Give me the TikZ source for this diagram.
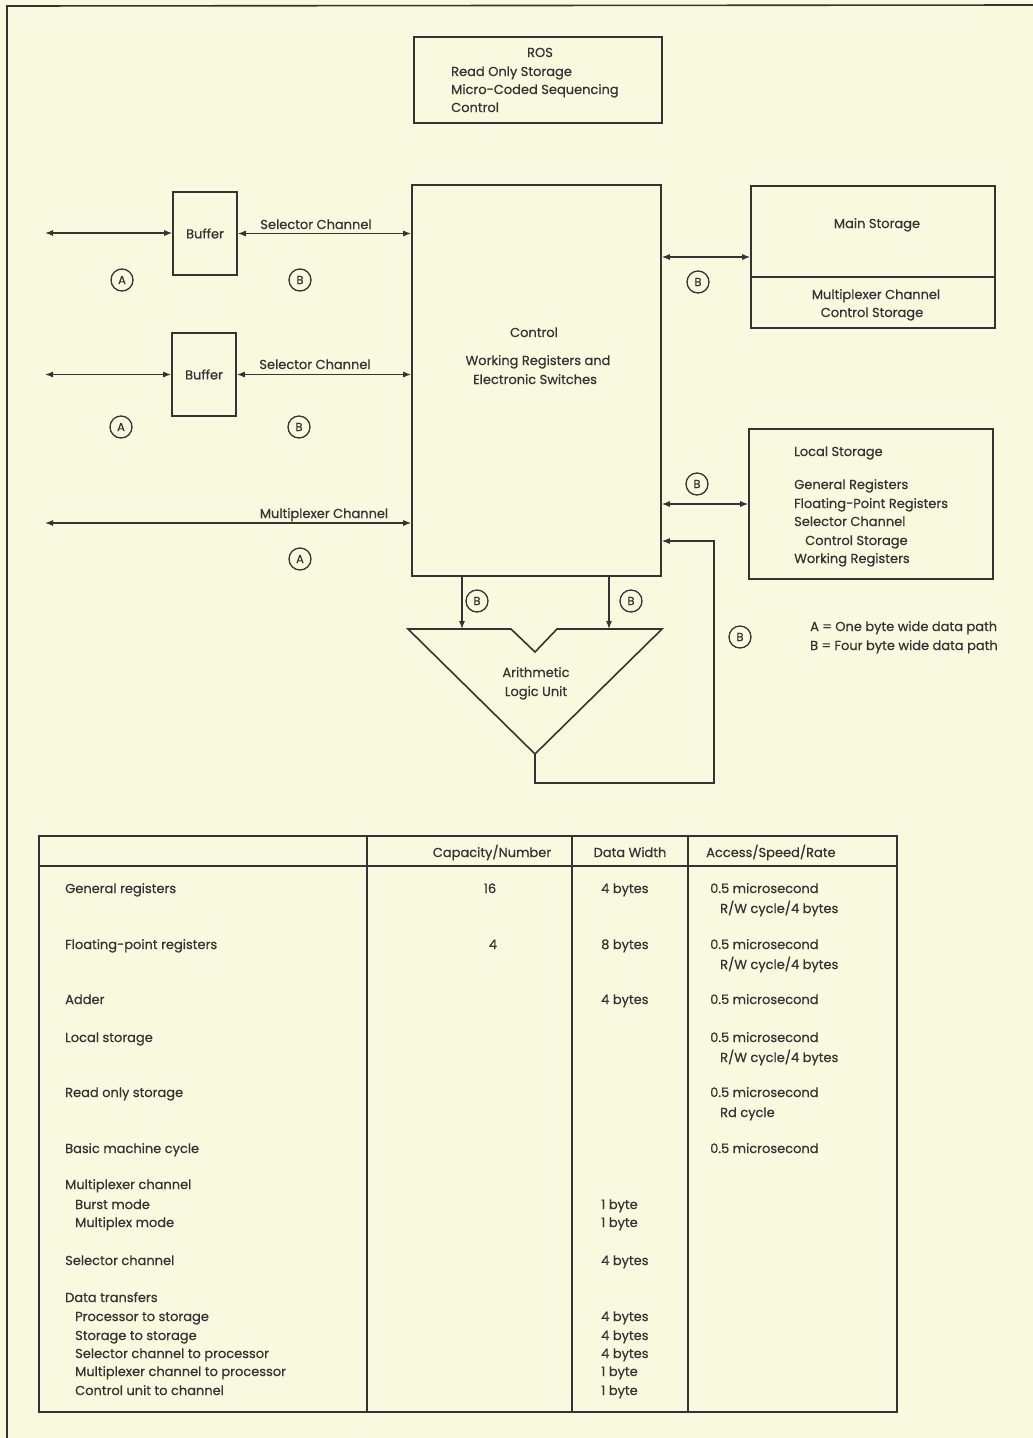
\documentclass[tikz,border=0pt]{standalone}
\usepackage{fontspec}
\setmainfont{Poppins}[FakeBold=0.6]
\usepackage{xcolor}
\usetikzlibrary{arrows.meta,calc,positioning}
\definecolor{paper}{RGB}{249,249,223}
\definecolor{ink}{RGB}{52,52,52}

\begin{document}
\begin{tikzpicture}[x=1pt,y=-1pt,font=\fontsize{13}{18.5}\selectfont,>={Latex[length=8pt,width=6pt]},color=ink]
\tikzset{blk/.style={draw=ink,line width=1.6pt,inner sep=0pt},
lbl/.style={inner sep=0pt,anchor=base},
lft/.style={inner sep=0pt,anchor=base west},
tag/.style={circle,draw=ink,line width=1.3pt,minimum size=22pt,inner sep=0pt,
font=\fontsize{11.5}{11.5}\selectfont},
link/.style={line width=1.1pt}}
\fill[paper] (0,0) rectangle (1033,1438);
\useasboundingbox (0,0) rectangle (1033,1438);
\draw[line width=1.6pt] (7,1438) -- (7,6) -- (1033,5);

% blocks
\node[blk,minimum width=248pt,minimum height=86pt] (ros) at (538,80) {};
\node[blk,minimum width=249pt,minimum height=391pt] (ctrl) at (536.5,380.5) {};
\node[blk,minimum width=64pt,minimum height=83pt] (buf1) at (205,233.5) {Buffer};
\node[blk,minimum width=64pt,minimum height=83pt] (buf2) at (204,374.5) {Buffer};
\node[blk,minimum width=244pt,minimum height=142pt] (main) at (873,257) {};
\draw[line width=1.6pt] (main.west |- 0,277) -- (main.east |- 0,277);
\node[blk,minimum width=244pt,minimum height=150pt] (loc) at (871,504) {};

% block texts
\node[lbl] (rosT) at (540,57) {ROS};
\node[lft] (rosA) at (451,76) {Read Only Storage};
\node[lft] (rosB) at (451,94) {Micro-Coded Sequencing};
\node[lft] (rosC) at (451,112) {Control};
\node[lbl] (ctrlT) at (534,337) {Control};
\node[lbl] (ctrlA) at (538,365) {Working Registers and};
\node[lbl] (ctrlB) at (535,384) {Electronic Switches};
\node[lbl] (mainT) at (877,228) {Main Storage};
\node[lbl] (mainA) at (876,299) {Multiplexer Channel};
\node[lbl] (mainB) at (872,317) {Control Storage};
\node[lft] (locT) at (794,456) {Local Storage};
\node[lft] (locA) at (794,489) {General Registers};
\node[lft] (locB) at (794,508) {Floating-Point Registers};
\node[lft] (locC) at (794,526) {Selector Channel};
\node[lft] (locD) at (805,545) {Control Storage};
\node[lft] (locE) at (794,563) {Working Registers};

% channels
\coordinate (e1) at (45,233);
\coordinate (e2) at (45,374.5);
\coordinate (e3) at (45,523);
\draw[link,<->] (e1) -- (e1 -| buf1.west);
\draw[link,<->] (buf1.east) -- (buf1.east -| ctrl.west);
\draw[link,<->] (e2) -- (e2 -| buf2.west);
\draw[link,<->] (buf2.east) -- (buf2.east -| ctrl.west);
\draw[link,<->] (e3) -- (e3 -| ctrl.west);
\node[lbl] (sel1) at (316,229) {Selector Channel};
\node[lbl] (sel2) at (315,369) {Selector Channel};
\node[lbl] (mpx) at (324,518) {Multiplexer Channel};
\draw[link,<->] (main.west -| ctrl.east) -- (main.west);
\draw[link,<->] (loc.west -| ctrl.east) -- (loc.west);

% ALU
\coordinate (alu) at (535,754);
\coordinate (inL) at (462,629);
\coordinate (inR) at (609,629);
\coordinate (fb) at (714,541);
\draw[line width=1.6pt,line join=miter] (408,629) -- (511,629) -- (535,652)
  -- (557,629) -- (662,629) -- (alu) -- cycle;
\node[lbl] (aluA) at (536,677) {Arithmetic};
\node[lbl] (aluB) at (536,696) {Logic Unit};
\draw[link,->] (inL |- ctrl.south) -- (inL);
\draw[link,->] (inR |- ctrl.south) -- (inR);
\draw[link,->] (alu) -- ++(0,29) -| (fb) -- (fb -| ctrl.east);

% path width tags
\node[tag] (ta1) at (122,280) {A};
\node[tag] (tb1) at (300,280) {B};
\node[tag] (ta2) at (121,427) {A};
\node[tag] (tb2) at (299,427) {B};
\node[tag] (ta3) at (300,559) {A};
\node[tag] (tb3) at (698,282) {B};
\node[tag] (tb4) at (697,484) {B};
\node[tag] (tb5) at (477,601) {B};
\node[tag] (tb6) at (631,601) {B};
\node[tag] (tb7) at (740,637) {B};
\node[lft] (keyA) at (810,631) {A = One byte wide data path};
\node[lft] (keyB) at (810,650) {B = Four byte wide data path};

% table
\node[blk,minimum width=858pt,minimum height=576pt] (tab) at (468,1124) {};
\draw[line width=1.6pt] (tab.west |- 0,866) -- (tab.east |- 0,866);
\foreach \x in {367,572,688}
  \draw[line width=1.3pt] (tab.north -| \x,0) -- (tab.south -| \x,0);
\node[lbl] (h1) at (492,857) {Capacity/Number};
\node[lbl] (h2) at (630,857) {Data Width};
\node[lft] (h3) at (706,857) {Access/Speed/Rate};
\foreach \y/\t in {893/General registers,949/Floating-point registers,1004/Adder,
  1042/Local storage,1097/Read only storage,1153/Basic machine cycle,
  1189/Multiplexer channel,1265/Selector channel,1302/Data transfers}
  \node[lft] (k\y) at (65,\y) {\t};
\foreach \y/\t in {1209/Burst mode,1227/Multiplex mode,1321/Processor to storage,
  1340/Storage to storage,1358/Selector channel to processor,
  1376/Multiplexer channel to processor,1395/Control unit to channel}
  \node[lft] (k\y) at (75,\y) {\t};
\node[lbl] (n16) at (490,893) {16};
\node[lbl] (n4) at (493,949) {4};
\foreach \y/\t in {893/4 bytes,949/8 bytes,1004/4 bytes,1209/1 byte,1227/1 byte,
  1265/4 bytes,1321/4 bytes,1340/4 bytes,1358/4 bytes,1376/1 byte,1395/1 byte}
  \node[lft] (w\y) at (601,\y) {\t};
\foreach \y in {893,949,1004,1042,1097,1153}
  \node[lft] (s\y) at (710,\y) {0.5 microsecond};
\foreach \y in {913,969,1062}
  \node[lft] (c\y) at (720,\y) {R/W cycle/4 bytes};
\node[lft] (c1117) at (720,1117) {Rd cycle};
\end{tikzpicture}
\end{document}
